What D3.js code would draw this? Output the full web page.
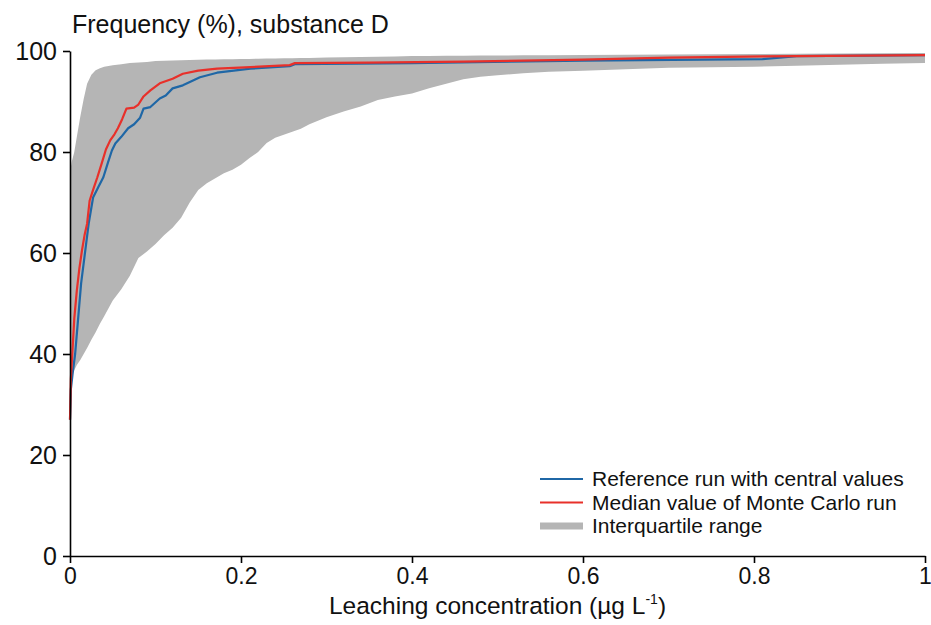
<!DOCTYPE html>
<html>
<head>
<meta charset="utf-8">
<script src="https://cdn.jsdelivr.net/npm/d3@7"></script>
<style>
  html, body { margin: 0; padding: 0; background: #fff; }
  svg { display: block; font-family: "Liberation Sans", Arial, sans-serif; }
</style>
</head>
<body>
<svg id="chart" width="931" height="625"></svg>
<script>
// Cumulative frequency of leaching concentration, substance D

// x positions (µg/L) for the interquartile band
const iqrX = [0, 0.002, 0.005, 0.008, 0.012, 0.016, 0.02, 0.025, 0.03, 0.035, 0.04, 0.05, 0.06, 0.07, 0.08, 0.09,
  0.1, 0.11, 0.12, 0.13, 0.14, 0.15, 0.16, 0.17, 0.18, 0.19, 0.2, 0.21, 0.22, 0.23, 0.24, 0.25, 0.26, 0.27, 0.28,
  0.3, 0.32, 0.34, 0.36, 0.38, 0.4, 0.42, 0.44, 0.46, 0.48, 0.5, 0.53, 0.56, 0.6, 0.65, 0.7, 0.75, 0.8, 0.85, 0.9, 0.95, 1];
// lower edge of the band (%)
const iqrLow = [35, 36, 36.8, 37.8, 38.8, 40, 41.2, 42.8, 44.3, 46, 47.5, 50.6, 52.8, 55.5, 59, 60.3,
  61.8, 63.5, 65, 67, 70, 72.5, 73.8, 74.8, 75.8, 76.5, 77.5, 78.8, 80, 81.8, 82.8, 83.4, 84, 84.6, 85.5,
  86.9, 88, 89, 90.3, 91, 91.6, 92.6, 93.5, 94.4, 94.9, 95.2, 95.6, 95.9, 96.1, 96.4, 96.7, 96.8, 96.9, 97.1, 97.3, 97.5, 97.6];
// upper edge of the band (%)
const iqrHigh = [76, 78, 80, 83, 87, 90.5, 93.5, 95.3, 96.2, 96.6, 96.9, 97.2, 97.4, 97.6, 97.7, 97.8,
  98.0, 98.05, 98.1, 98.15, 98.2, 98.25, 98.3, 98.33, 98.36, 98.38, 98.4, 98.43, 98.46, 98.5, 98.52, 98.55, 98.58, 98.6, 98.63,
  98.7, 98.75, 98.8, 98.85, 98.9, 99.0, 99.0, 99.05, 99.05, 99.1, 99.1, 99.15, 99.15, 99.2, 99.25, 99.3, 99.35, 99.4, 99.45, 99.5, 99.55, 99.6];

// Reference run with central values
const refX = [0, 0.001, 0.003, 0.006, 0.01, 0.013, 0.016, 0.019, 0.022, 0.027, 0.033, 0.039, 0.044, 0.049, 0.053,
  0.06, 0.068, 0.075, 0.082, 0.086, 0.094, 0.105, 0.112, 0.12, 0.132, 0.152, 0.172, 0.211, 0.257, 0.263,
  0.4, 0.6, 0.81, 0.85, 1];
const refY = [27, 33, 36, 40, 48, 54, 58, 62, 66, 71, 73, 75, 77.7, 80.3, 81.7,
  83, 84.7, 85.5, 86.8, 88.6, 88.9, 90.6, 91.2, 92.6, 93.2, 94.8, 95.7, 96.5, 97.0, 97.4,
  97.6, 98.1, 98.4, 99.0, 99.2];

// Median value of the Monte Carlo run
const medX = [0, 0.001, 0.003, 0.005, 0.008, 0.011, 0.014, 0.017, 0.02, 0.023, 0.027, 0.032, 0.037, 0.042, 0.047,
  0.052, 0.056, 0.061, 0.066, 0.075, 0.08, 0.086, 0.094, 0.105, 0.12, 0.132, 0.15, 0.172, 0.211, 0.257, 0.263,
  0.35, 0.46, 0.6, 0.7, 0.85, 1];
const medY = [27, 35, 41, 47, 52.6, 57, 60.5, 63.5, 65.8, 70.4, 72.5, 75, 77.7, 80.5, 82.3,
  83.5, 84.7, 86.5, 88.6, 88.8, 89.4, 91, 92.2, 93.6, 94.5, 95.5, 96.1, 96.5, 96.8, 97.2, 97.6,
  97.7, 97.9, 98.3, 98.7, 99.0, 99.2];

const xTicks = [0, 0.2, 0.4, 0.6, 0.8, 1];
const yTicks = [0, 20, 40, 60, 80, 100];

const legendLabels = ["Reference run with central values", "Median value of Monte Carlo run", "Interquartile range"];
const colors = { ref: "#1f67a6", med: "#e8302a", band: "#b5b5b5" };

const margin = { left: 70, right: 6, top: 51, bottom: 69 };
const W = 931, H = 625;
const svg = d3.select("#chart");

const x = d3.scaleLinear().domain([0, 1]).range([margin.left, W - margin.right]);
const y = d3.scaleLinear().domain([0, 100]).range([H - margin.bottom, margin.top]);

// interquartile band
const band = iqrX.map((v, i) => ({ x: v, lo: iqrLow[i], hi: iqrHigh[i] }));
svg.append("path")
  .datum(band)
  .attr("fill", colors.band)
  .attr("d", d3.area().x(d => x(d.x)).y0(d => y(d.lo)).y1(d => y(d.hi)));

const line = d3.line().x(d => x(d[0])).y(d => y(d[1]));
svg.append("path")
  .datum(refX.map((v, i) => [v, refY[i]]))
  .attr("fill", "none").attr("stroke", colors.ref).attr("stroke-width", 2.2)
  .attr("stroke-linejoin", "round")
  .attr("d", line);
svg.append("path")
  .datum(medX.map((v, i) => [v, medY[i]]))
  .attr("fill", "none").attr("stroke", colors.med).attr("stroke-width", 2.2)
  .attr("stroke-linejoin", "round")
  .attr("d", line);

// axes
const xAxis = svg.append("g")
  .attr("transform", `translate(0,${y(0)})`)
  .call(d3.axisBottom(x).tickValues(xTicks).tickFormat(d3.format("~g")).tickSize(7).tickSizeOuter(0).tickPadding(5));
const yAxis = svg.append("g")
  .attr("transform", `translate(${x(0)},0)`)
  .call(d3.axisLeft(y).tickValues(yTicks).tickSize(7).tickSizeOuter(0).tickPadding(6));

[xAxis, yAxis].forEach(g => {
  g.select(".domain").attr("stroke", "#000").attr("stroke-width", 1.6);
  g.selectAll(".tick line").attr("stroke", "#000").attr("stroke-width", 1.6);
  g.selectAll(".tick text").attr("fill", "#111").attr("font-family", "Liberation Sans, Arial, sans-serif");
});
xAxis.selectAll(".tick text").attr("font-size", 23);
yAxis.selectAll(".tick text").attr("font-size", 25);

// titles
svg.append("text")
  .attr("x", 72).attr("y", 33)
  .attr("font-size", 25).attr("fill", "#111")
  .text("Frequency (%), substance D");

const xTitle = svg.append("text")
  .attr("x", (x(0) + x(1)) / 2).attr("y", 614)
  .attr("text-anchor", "middle")
  .attr("font-size", 24.5).attr("fill", "#111");
xTitle.append("tspan").text("Leaching concentration (\u00b5g L");
xTitle.append("tspan").attr("font-size", 14).attr("dy", -10).text("-1");
xTitle.append("tspan").attr("dy", 10).text(")");

// legend
const legend = svg.append("g").attr("transform", "translate(540,479)");
const swatches = [
  { color: colors.ref, width: 2.2 },
  { color: colors.med, width: 2.2 },
  { color: colors.band, width: 7 }
];
legendLabels.forEach((label, i) => {
  const row = legend.append("g").attr("transform", `translate(0,${i * 23.5})`);
  row.append("line").attr("x1", 0).attr("x2", 43).attr("y1", 0).attr("y2", 0)
    .attr("stroke", swatches[i].color).attr("stroke-width", swatches[i].width);
  row.append("text").attr("x", 52).attr("y", 0).attr("dy", "0.35em")
    .attr("font-size", 21).attr("fill", "#111").text(label);
});
</script>
</body>
</html>
